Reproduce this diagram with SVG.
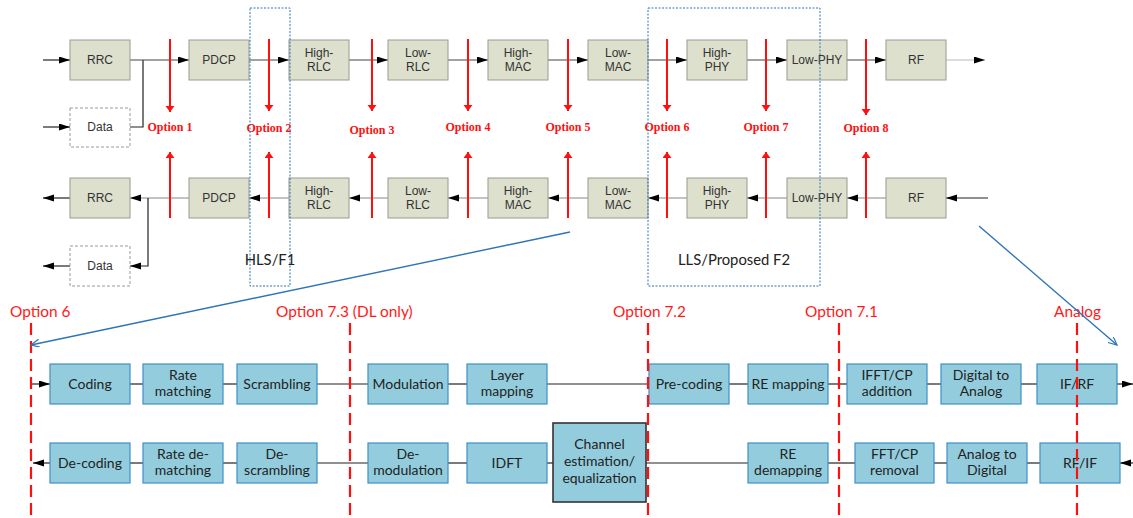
<svg xmlns="http://www.w3.org/2000/svg" width="1133" height="518" viewBox="0 0 1133 518">
<style>
.tb{fill:#dde0cd;stroke:#9a9a90;stroke-width:1}
.db{fill:#fff;stroke:#999;stroke-width:1;stroke-dasharray:3 2}
.tt{font-family:"Liberation Sans",Arial,sans-serif;font-size:12px;fill:#333;text-anchor:middle}
.bb{fill:#93cddd;stroke:#3f8fc8;stroke-width:1.2}
.ce{fill:#93cddd;stroke:#333;stroke-width:1.6}
.bt{font-family:Lato,"Liberation Sans",sans-serif;font-size:14px;fill:#222;text-anchor:middle}
.opt{font-family:"Liberation Serif","Times New Roman",serif;font-weight:bold;font-size:12px;fill:#ff1010;text-anchor:middle}
.opl{font-family:Lato,"Liberation Sans",sans-serif;font-size:15.4px;fill:#ff1a1a}
.lbl{font-family:Lato,"Liberation Sans",sans-serif;font-size:14.8px;fill:#222;text-anchor:middle}
.c1{stroke:#444;stroke-width:1;fill:none}
.c2{stroke:#888;stroke-width:1.2;fill:none}
.c3{stroke:#222;stroke-width:1.2;fill:none}
.ra{stroke:#ff1010;stroke-width:2;fill:none}
.rd{stroke:#ff1010;stroke-width:2.2;stroke-dasharray:12 6;fill:none}
.bl{stroke:#2e75b6;stroke-width:1.4;fill:none}
.dot{fill:none;stroke:#2e75b6;stroke-width:1;stroke-dasharray:2 1.5}
</style>
<defs>
<marker id="ak" markerUnits="userSpaceOnUse" markerWidth="12" markerHeight="8" refX="11" refY="3.5" orient="auto"><path d="M0,0 L11,3.5 L0,7 z" fill="#000"/></marker>
<marker id="ar" markerUnits="userSpaceOnUse" markerWidth="8" markerHeight="10" refX="6" refY="4.5" orient="auto"><path d="M0,0 L6,4.5 L0,9 z" fill="#ff1010"/></marker>
<marker id="ab" markerUnits="userSpaceOnUse" markerWidth="10" markerHeight="10" refX="8.5" refY="4" orient="auto"><path d="M0,0 L8.5,4 L0,8" fill="none" stroke="#2e75b6" stroke-width="1.2"/></marker>
</defs>

<g id="connectors">
  <!-- top row (downlink) -->
  <line class="c3" x1="43" y1="60" x2="70" y2="60" marker-end="url(#ak)"/>
  <line class="c3" x1="43" y1="127" x2="70" y2="127" marker-end="url(#ak)"/>
  <polyline class="c3" points="130,127 143,127 143,60"/>
  <line class="c1" x1="130" y1="60" x2="189" y2="60" marker-end="url(#ak)"/>
  <line class="c1" x1="249" y1="60" x2="289" y2="60" marker-end="url(#ak)"/>
  <line class="c1" x1="349" y1="60" x2="388" y2="60" marker-end="url(#ak)"/>
  <line class="c1" x1="448" y1="60" x2="488" y2="60" marker-end="url(#ak)"/>
  <line class="c1" x1="548" y1="60" x2="588" y2="60" marker-end="url(#ak)"/>
  <line class="c1" x1="648" y1="60" x2="687" y2="60" marker-end="url(#ak)"/>
  <line class="c1" x1="747" y1="60" x2="787" y2="60" marker-end="url(#ak)"/>
  <line class="c1" x1="847" y1="60" x2="886" y2="60" marker-end="url(#ak)"/>
  <line x1="946" y1="60" x2="985" y2="60" stroke="#bbb" stroke-width="1" marker-end="url(#ak)"/>
  <!-- bottom row (uplink) -->
  <line class="c3" x1="988" y1="198" x2="946" y2="198" marker-end="url(#ak)"/>
  <line class="c2" x1="886" y1="198" x2="847" y2="198" marker-end="url(#ak)"/>
  <line class="c2" x1="787" y1="198" x2="747" y2="198" marker-end="url(#ak)"/>
  <line class="c2" x1="687" y1="198" x2="648" y2="198" marker-end="url(#ak)"/>
  <line class="c2" x1="588" y1="198" x2="548" y2="198" marker-end="url(#ak)"/>
  <line class="c2" x1="488" y1="198" x2="448" y2="198" marker-end="url(#ak)"/>
  <line class="c2" x1="388" y1="198" x2="349" y2="198" marker-end="url(#ak)"/>
  <line class="c2" x1="289" y1="198" x2="249" y2="198" marker-end="url(#ak)"/>
  <line class="c2" x1="189" y1="198" x2="130" y2="198" marker-end="url(#ak)"/>
  <polyline class="c3" points="148,198 148,266 130,266" marker-end="url(#ak)"/>
  <line class="c3" x1="70" y1="198" x2="43" y2="198" marker-end="url(#ak)"/>
  <line class="c3" x1="70" y1="266" x2="43" y2="266" marker-end="url(#ak)"/>

  <!-- split option arrows -->
  <line class="ra" x1="170" y1="39" x2="170" y2="112" marker-end="url(#ar)"/>
  <line class="ra" x1="170" y1="218" x2="170" y2="152" marker-end="url(#ar)"/>
  <line class="ra" x1="269" y1="39" x2="269" y2="111" marker-end="url(#ar)"/>
  <line class="ra" x1="269" y1="218" x2="269" y2="152" marker-end="url(#ar)"/>
  <line class="ra" x1="372" y1="39" x2="372" y2="111" marker-end="url(#ar)"/>
  <line class="ra" x1="372" y1="218" x2="372" y2="152" marker-end="url(#ar)"/>
  <line class="ra" x1="468" y1="39" x2="468" y2="111" marker-end="url(#ar)"/>
  <line class="ra" x1="468" y1="218" x2="468" y2="152" marker-end="url(#ar)"/>
  <line class="ra" x1="568" y1="39" x2="568" y2="111" marker-end="url(#ar)"/>
  <line class="ra" x1="568" y1="218" x2="568" y2="152" marker-end="url(#ar)"/>
  <line class="ra" x1="667" y1="39" x2="667" y2="111" marker-end="url(#ar)"/>
  <line class="ra" x1="667" y1="218" x2="667" y2="152" marker-end="url(#ar)"/>
  <line class="ra" x1="766" y1="39" x2="766" y2="111" marker-end="url(#ar)"/>
  <line class="ra" x1="766" y1="218" x2="766" y2="152" marker-end="url(#ar)"/>
  <line class="ra" x1="866" y1="39" x2="866" y2="115" marker-end="url(#ar)"/>
  <line class="ra" x1="866" y1="218" x2="866" y2="152" marker-end="url(#ar)"/>

  <!-- PHY chain connectors -->
  <line class="c3" x1="31" y1="384" x2="50" y2="384" marker-end="url(#ak)"/>
  <polyline class="c3" points="130,384 143,384"/>
  <polyline class="c3" points="223,384 237,384"/>
  <polyline class="c3" points="317,384 368,384"/>
  <polyline class="c3" points="448,384 467,384"/>
  <polyline class="c3" points="547,384 649,384"/>
  <polyline class="c3" points="729,384 748,384"/>
  <polyline class="c3" points="828,384 847,384"/>
  <polyline class="c3" points="927,384 941,384"/>
  <polyline class="c3" points="1021,384 1037,384"/>
  <line class="c3" x1="1117" y1="384" x2="1133" y2="384" marker-end="url(#ak)"/>
  <line class="c3" x1="50" y1="463" x2="33" y2="463" marker-end="url(#ak)"/>
  <polyline class="c3" points="130,463 143,463"/>
  <polyline class="c3" points="223,463 237,463"/>
  <polyline class="c3" points="317,463 368,463"/>
  <polyline class="c3" points="448,463 467,463"/>
  <polyline class="c3" points="547,463 553,463"/>
  <polyline class="c3" points="646,463 748,463"/>
  <polyline class="c3" points="828,463 855,463"/>
  <polyline class="c3" points="934,463 947,463"/>
  <polyline class="c3" points="1027,463 1040,463"/>
  <line class="c3" x1="1133" y1="463" x2="1120" y2="463" marker-end="url(#ak)"/>
</g>

<g id="option-labels">
  <text class="opt" x="170" y="131">Option 1</text>
  <text class="opt" x="269" y="132">Option 2</text>
  <text class="opt" x="372" y="134">Option 3</text>
  <text class="opt" x="468" y="131">Option 4</text>
  <text class="opt" x="568" y="131">Option 5</text>
  <text class="opt" x="667" y="131">Option 6</text>
  <text class="opt" x="766" y="131">Option 7</text>
  <text class="opt" x="866" y="132">Option 8</text>
</g>

<!-- top row nodes -->
<g id="rrc-dl"><rect class="tb" x="70" y="40" width="60" height="40"/><text class="tt" x="100" y="64">RRC</text></g>
<g id="data-dl"><rect class="db" x="70" y="108" width="60" height="39"/><text class="tt" x="100" y="131">Data</text></g>
<g id="pdcp-dl"><rect class="tb" x="189" y="40" width="60" height="40"/><text class="tt" x="219" y="64">PDCP</text></g>
<g id="highrlc-dl"><rect class="tb" x="289" y="40" width="60" height="40"/><text class="tt" x="319" y="57">High-</text><text class="tt" x="319" y="71">RLC</text></g>
<g id="lowrlc-dl"><rect class="tb" x="388" y="40" width="60" height="40"/><text class="tt" x="418" y="57">Low-</text><text class="tt" x="418" y="71">RLC</text></g>
<g id="highmac-dl"><rect class="tb" x="488" y="40" width="60" height="40"/><text class="tt" x="518" y="57">High-</text><text class="tt" x="518" y="71">MAC</text></g>
<g id="lowmac-dl"><rect class="tb" x="588" y="40" width="60" height="40"/><text class="tt" x="618" y="57">Low-</text><text class="tt" x="618" y="71">MAC</text></g>
<g id="highphy-dl"><rect class="tb" x="687" y="40" width="60" height="40"/><text class="tt" x="717" y="57">High-</text><text class="tt" x="717" y="71">PHY</text></g>
<g id="lowphy-dl"><rect class="tb" x="787" y="40" width="60" height="40"/><text class="tt" x="817" y="64">Low-PHY</text></g>
<g id="rf-dl"><rect class="tb" x="886" y="40" width="60" height="40"/><text class="tt" x="916" y="64">RF</text></g>

<!-- bottom row nodes -->
<g id="rrc-ul"><rect class="tb" x="70" y="178" width="60" height="40"/><text class="tt" x="100" y="202">RRC</text></g>
<g id="data-ul"><rect class="db" x="70" y="246" width="60" height="40"/><text class="tt" x="100" y="270">Data</text></g>
<g id="pdcp-ul"><rect class="tb" x="189" y="178" width="60" height="40"/><text class="tt" x="219" y="202">PDCP</text></g>
<g id="highrlc-ul"><rect class="tb" x="289" y="178" width="60" height="40"/><text class="tt" x="319" y="195">High-</text><text class="tt" x="319" y="209">RLC</text></g>
<g id="lowrlc-ul"><rect class="tb" x="388" y="178" width="60" height="40"/><text class="tt" x="418" y="195">Low-</text><text class="tt" x="418" y="209">RLC</text></g>
<g id="highmac-ul"><rect class="tb" x="488" y="178" width="60" height="40"/><text class="tt" x="518" y="195">High-</text><text class="tt" x="518" y="209">MAC</text></g>
<g id="lowmac-ul"><rect class="tb" x="588" y="178" width="60" height="40"/><text class="tt" x="618" y="195">Low-</text><text class="tt" x="618" y="209">MAC</text></g>
<g id="highphy-ul"><rect class="tb" x="687" y="178" width="60" height="40"/><text class="tt" x="717" y="195">High-</text><text class="tt" x="717" y="209">PHY</text></g>
<g id="lowphy-ul"><rect class="tb" x="787" y="178" width="60" height="40"/><text class="tt" x="817" y="202">Low-PHY</text></g>
<g id="rf-ul"><rect class="tb" x="886" y="178" width="60" height="40"/><text class="tt" x="916" y="202">RF</text></g>

<!-- split groupings -->
<g id="hls-f1"><rect class="dot" x="250" y="8" width="40" height="278"/><text class="lbl" x="270" y="265">HLS/F1</text></g>
<g id="lls-f2"><rect class="dot" x="648" y="8" width="172" height="278"/><text class="lbl" x="734" y="265">LLS/Proposed F2</text></g>

<!-- PHY chain nodes, row 1 -->
<g id="coding"><rect class="bb" x="50" y="364" width="80" height="40"/><text class="bt" x="90" y="389">Coding</text></g>
<g id="rate-matching"><rect class="bb" x="143" y="364" width="80" height="40"/><text class="bt" x="183" y="380">Rate</text><text class="bt" x="183" y="396">matching</text></g>
<g id="scrambling"><rect class="bb" x="237" y="364" width="80" height="40"/><text class="bt" x="277" y="389">Scrambling</text></g>
<g id="modulation"><rect class="bb" x="368" y="364" width="80" height="40"/><text class="bt" x="408" y="389">Modulation</text></g>
<g id="layer-mapping"><rect class="bb" x="467" y="364" width="80" height="40"/><text class="bt" x="507" y="380">Layer</text><text class="bt" x="507" y="396">mapping</text></g>
<g id="pre-coding"><rect class="bb" x="649" y="364" width="80" height="40"/><text class="bt" x="689" y="389">Pre-coding</text></g>
<g id="re-mapping"><rect class="bb" x="748" y="364" width="80" height="40"/><text class="bt" x="788" y="389">RE mapping</text></g>
<g id="ifft-cp"><rect class="bb" x="847" y="364" width="80" height="40"/><text class="bt" x="887" y="380">IFFT/CP</text><text class="bt" x="887" y="396">addition</text></g>
<g id="dac"><rect class="bb" x="941" y="364" width="80" height="40"/><text class="bt" x="981" y="380">Digital to</text><text class="bt" x="981" y="396">Analog</text></g>
<g id="if-rf"><rect class="bb" x="1037" y="364" width="80" height="40"/><text class="bt" x="1077" y="389">IF/RF</text></g>

<!-- PHY chain nodes, row 2 -->
<g id="de-coding"><rect class="bb" x="50" y="443" width="80" height="40"/><text class="bt" x="90" y="468">De-coding</text></g>
<g id="rate-de-matching"><rect class="bb" x="143" y="443" width="80" height="40"/><text class="bt" x="183" y="459">Rate de-</text><text class="bt" x="183" y="475">matching</text></g>
<g id="de-scrambling"><rect class="bb" x="237" y="443" width="80" height="40"/><text class="bt" x="277" y="459">De-</text><text class="bt" x="277" y="475">scrambling</text></g>
<g id="de-modulation"><rect class="bb" x="368" y="443" width="80" height="40"/><text class="bt" x="408" y="459">De-</text><text class="bt" x="408" y="475">modulation</text></g>
<g id="idft"><rect class="bb" x="467" y="443" width="80" height="40"/><text class="bt" x="507" y="468">IDFT</text></g>
<g id="channel-est"><rect class="ce" x="553" y="423" width="93" height="79"/><text class="bt" x="599.5" y="449">Channel</text><text class="bt" x="599.5" y="466">estimation/</text><text class="bt" x="599.5" y="483">equalization</text></g>
<g id="re-demapping"><rect class="bb" x="748" y="443" width="80" height="40"/><text class="bt" x="788" y="459">RE</text><text class="bt" x="788" y="475">demapping</text></g>
<g id="fft-cp"><rect class="bb" x="855" y="443" width="79" height="40"/><text class="bt" x="894.5" y="459">FFT/CP</text><text class="bt" x="894.5" y="475">removal</text></g>
<g id="adc"><rect class="bb" x="947" y="443" width="80" height="40"/><text class="bt" x="987" y="459">Analog to</text><text class="bt" x="987" y="475">Digital</text></g>
<g id="rf-if"><rect class="bb" x="1040" y="443" width="80" height="40"/><text class="bt" x="1080" y="468">RF/IF</text></g>

<!-- PHY split lines -->
<g id="phy-splits">
  <line class="rd" x1="31" y1="323" x2="31" y2="518"/>
  <line class="rd" x1="350" y1="323" x2="350" y2="518"/>
  <line class="rd" x1="648" y1="323" x2="648" y2="518"/>
  <line class="rd" x1="839" y1="323" x2="839" y2="518"/>
  <line class="rd" x1="1077" y1="323" x2="1077" y2="518"/>
  <text class="opl" x="10" y="317">Option 6</text>
  <text class="opl" x="276" y="317">Option 7.3 (DL only)</text>
  <text class="opl" x="613" y="317">Option 7.2</text>
  <text class="opl" x="805" y="317">Option 7.1</text>
  <text class="opl" x="1054" y="317">Analog</text>
</g>

<g id="zoom-lines">
  <line class="bl" x1="570" y1="232" x2="31" y2="345" marker-end="url(#ab)"/>
  <line class="bl" x1="979" y1="226" x2="1117" y2="345" marker-end="url(#ab)"/>
</g>
</svg>
